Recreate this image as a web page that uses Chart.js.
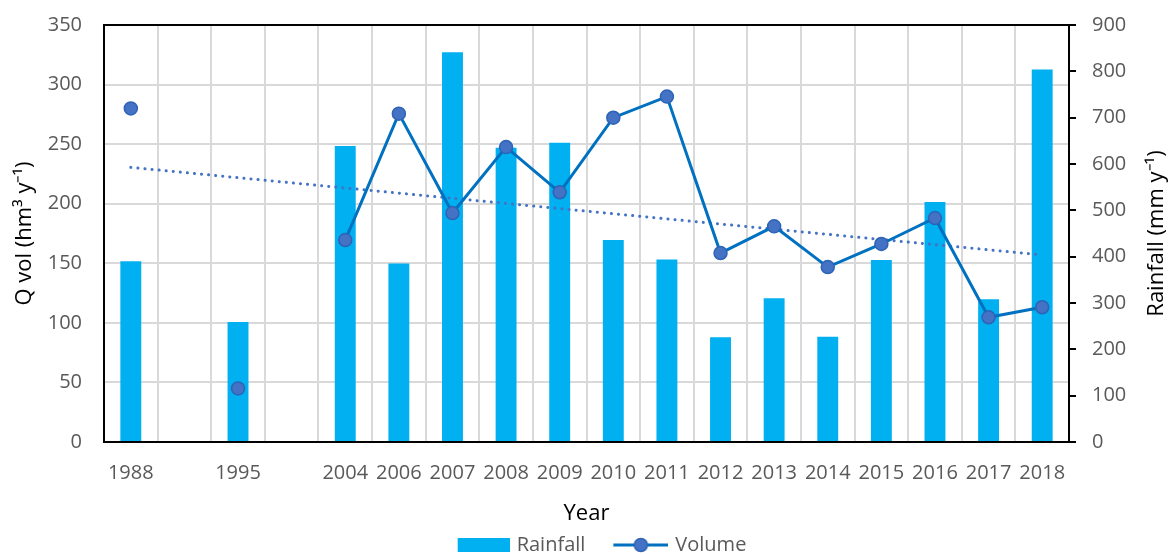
<!DOCTYPE html>
<html><head><meta charset="utf-8">
<script src="https://cdn.jsdelivr.net/npm/chart.js@4.4.1/dist/chart.umd.min.js"></script>
<style>html,body{margin:0;padding:0;background:#fff;}</style>
</head><body>
<canvas id="c" width="1169" height="554"></canvas>
<script>
// ---- data ----
const categories = ['1988','','1995','','2004','2006','2007','2008','2009','2010','2011','2012','2013','2014','2015','2016','2017','2018'];
const rainfall = [390,null,259,null,639,385,841,635,646,436,394,226,310,227,393,518,308,804];
const volume   = [280,null,45,null,169.5,275.6,192.2,247.5,209.6,272.2,289.9,158.6,181,146.8,166.2,188,104.7,113.1];
const volumeTrend = [230.5,null,null,null,null,null,null,null,null,null,null,null,null,null,null,null,null,157];
const volumeTicks = [0,50,100,150,200,250,300,350];
const rainfallTicks = [0,100,200,300,400,500,600,700,800,900];
const seriesNames = ['Rainfall','Volume','Trend'];
const axisTitles = { x: 'Year', y: 'Q vol (hm³ y⁻¹)', y1: 'Rainfall (mm y⁻¹)' };

const FONT = "'Open Sans', 'Liberation Sans', sans-serif";
const BAR = '#00B0F0', LINE = '#0070C0', MARK = '#4472C4', MARKB = '#2E63B5';

function icon(w, h, draw){ const c=document.createElement('canvas'); c.width=w; c.height=h; draw(c.getContext('2d')); return c; }
// legend icons: 86px wide canvases, the visible part sits at the right end
const rainIcon = icon(86,16,g=>{g.fillStyle=BAR; g.fillRect(34,1,52,14);});
const volIcon = icon(86,16,g=>{g.strokeStyle=LINE; g.lineWidth=3; g.beginPath(); g.moveTo(31,8); g.lineTo(86,8); g.stroke();
  g.beginPath(); g.arc(58.5,8,6.5,0,Math.PI*2); g.fillStyle=MARK; g.fill(); g.lineWidth=1.5; g.strokeStyle=MARKB; g.stroke();});

const frame = {
  id:'frame',
  afterDraw(chart){
    const {ctx, chartArea:a} = chart;
    ctx.save();
    ctx.strokeStyle='#000'; ctx.lineWidth=2;
    ctx.beginPath(); ctx.moveTo(a.left-1, a.top); ctx.lineTo(a.right+1, a.top); ctx.stroke();
    // right axis title, reading bottom-to-top
    ctx.translate(1157, (a.top+a.bottom)/2);
    ctx.rotate(-Math.PI/2);
    ctx.fillStyle='#000'; ctx.font = "22px "+FONT; ctx.textAlign='center'; ctx.textBaseline='middle';
    ctx.fillText(axisTitles.y1, 0, 0);
    ctx.restore();
  }
};

new Chart(document.getElementById('c'), {
  data: {
    labels: categories,
    datasets: [
      { type:'bar', label: seriesNames[0], data: rainfall, yAxisID:'y1', backgroundColor: BAR,
        categoryPercentage:1, barPercentage:0.39, order:3 },
      { type:'line', label: seriesNames[1], data: volume, yAxisID:'y', borderColor: LINE, borderWidth:3,
        pointRadius:6.5, pointBackgroundColor: MARK, pointBorderColor: MARKB, pointBorderWidth:1.5,
        spanGaps:false, tension:0, order:1, pointStyle:'circle' },
      { type:'line', label: seriesNames[2], data: volumeTrend, yAxisID:'y', borderColor: MARK, borderWidth:3,
        borderDash:[0.1,7], borderCapStyle:'round', pointRadius:0, spanGaps:true, order:2 }
    ]
  },
  options: {
    responsive:false, animation:false, devicePixelRatio:1,
    layout:{ padding:{ left:8, right:38, top:25, bottom:0 } },
    plugins:{
      tooltip:{enabled:false},
      legend:{ position:'bottom', fullSize:false, maxHeight:19,
        labels:{ usePointStyle:true, pointStyleWidth:80, boxHeight:16, padding:0, color:'#595959',
          font:{family:FONT, size:20},
          filter: it => it.datasetIndex !== 2,
          sort: (a,b) => a.datasetIndex - b.datasetIndex,
          generateLabels(chart){
            const items = Chart.defaults.plugins.legend.labels.generateLabels(chart);
            items.forEach(it=>{ it.pointStyle = it.datasetIndex===0 ? rainIcon : volIcon; });
            return items;
          }
        } }
    },
    scales:{
      x:{ type:'category', offset:true,
        afterFit: s => { s.height = 93; s.paddingLeft = 0; s.paddingRight = 0; },
        grid:{ offset:true, color:'#D9D9D9', lineWidth:2, drawTicks:false },
        border:{ color:'#000', width:2 },
        ticks:{ color:'#595959', font:{family:FONT, size:20}, padding:19, maxRotation:0, autoSkip:false },
        title:{ display:true, text:axisTitles.x, color:'#000', font:{family:FONT, size:22}, padding:{top:0,bottom:8} } },
      y:{ position:'left', min:volumeTicks[0], max:volumeTicks[volumeTicks.length-1],
        afterBuildTicks: s => { s.ticks = volumeTicks.map(v=>({value:v})); },
        afterFit: s => { s.width = 96; s.paddingTop = 0; s.paddingBottom = 0; },
        grid:{ color:'#D9D9D9', lineWidth:2, drawTicks:false },
        border:{ color:'#000', width:2 },
        ticks:{ color:'#595959', font:{family:FONT, size:20}, padding:22 },
        title:{ display:true, text:axisTitles.y, color:'#000', font:{family:FONT, size:22}, padding:{top:4,bottom:0} } },
      y1:{ position:'right', min:rainfallTicks[0], max:rainfallTicks[rainfallTicks.length-1],
        afterBuildTicks: s => { s.ticks = rainfallTicks.map(v=>({value:v})); },
        afterFit: s => { s.width = 62; s.paddingTop = 0; s.paddingBottom = 0; },
        grid:{ drawOnChartArea:false, color:'#000', lineWidth:2, drawTicks:true, tickLength:7 },
        border:{ color:'#000', width:2 },
        ticks:{ color:'#595959', font:{family:FONT, size:20}, padding:16 } }
    }
  },
  plugins:[frame]
});
</script>
</body></html>
